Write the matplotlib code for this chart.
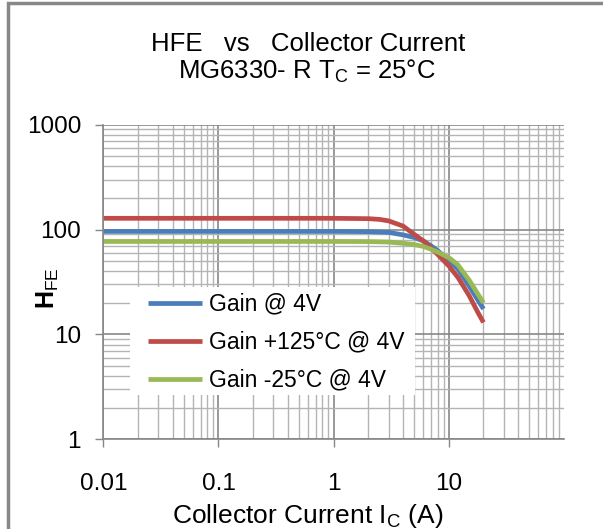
import numpy as np
import matplotlib
matplotlib.use("Agg")
from matplotlib import pyplot as plt
from matplotlib.patches import Rectangle
from matplotlib.ticker import LogLocator, NullFormatter, FixedLocator

plt.rcParams['font.family'] = ['Liberation Sans', 'DejaVu Sans']
plt.rcParams['mathtext.fontset'] = 'custom'
plt.rcParams['mathtext.rm'] = 'Liberation Sans'
plt.rcParams['mathtext.bf'] = 'Liberation Sans:bold'

# collector current (A) and gain values
ic_25 = [0.01, 0.1, 1, 2, 3, 4, 5, 6, 7, 8, 10, 12, 15, 18, 20]
hfe_25 = [96, 96, 96, 95.5, 94, 89, 84, 78, 70, 63, 51, 42, 29, 21, 17.5]

ic_125 = [0.01, 0.1, 1, 2, 2.5, 3, 4, 5, 6, 7, 8, 10, 12, 15, 18, 20]
hfe_125 = [128, 128, 128, 127, 125, 121, 108, 90, 78, 67, 58, 45, 35, 23.5, 16, 13]

ic_m25 = [0.01, 0.1, 1, 2, 3, 4, 5, 6, 7, 8, 10, 12, 15, 18, 20]
hfe_m25 = [77, 77, 77, 76.8, 76, 74, 72, 69, 65, 61, 54, 46, 33, 24, 20]

labels = ["Gain @ 4V", "Gain +125°C @ 4V", "Gain -25°C @ 4V"]
colors = ['#4A7EBB', '#BE4B48', '#98B954']

x_ticks = [0.01, 0.1, 1, 10]
x_tick_labels = ["0.01", "0.1", "1", "10"]
y_ticks = [1, 10, 100, 1000]
y_tick_labels = ["1", "10", "100", "1000"]

fig = plt.figure(figsize=(6.03, 5.29), dpi=100)
ax = fig.add_axes([0.1713, 0.1696, 0.764, 0.5947])

ax.set_xscale('log')
ax.set_yscale('log')
ax.set_xlim(0.01, 100)
ax.set_ylim(1, 1000)

# grid
ax.xaxis.set_minor_locator(LogLocator(base=10, subs=np.arange(2, 10), numticks=20))
ax.yaxis.set_minor_locator(LogLocator(base=10, subs=np.arange(2, 10), numticks=20))
ax.xaxis.set_minor_formatter(NullFormatter())
ax.yaxis.set_minor_formatter(NullFormatter())
ax.grid(True, which='minor', color='#B4B4B4', linewidth=1.0)
ax.grid(True, which='major', color='#878787', linewidth=1.2)
ax.set_axisbelow(True)

ax.plot(ic_25, hfe_25, color=colors[0], lw=3.4, label=labels[0], solid_capstyle='butt')
ax.plot(ic_125, hfe_125, color=colors[1], lw=3.4, label=labels[1], solid_capstyle='butt')
ax.plot(ic_m25, hfe_m25, color=colors[2], lw=3.4, label=labels[2], solid_capstyle='butt')

ax.xaxis.set_major_locator(FixedLocator(x_ticks))
ax.set_xticklabels(x_tick_labels)
ax.yaxis.set_major_locator(FixedLocator(y_ticks))
ax.set_yticklabels(y_tick_labels)
ax.tick_params(which='major', length=6, width=1, color='#878787', labelsize=17.5)
ax.tick_params(axis='x', pad=18)
ax.tick_params(axis='y', pad=10)
ax.tick_params(which='minor', length=0)

for side in ['top', 'right']:
    ax.spines[side].set_visible(False)
for side in ['left', 'bottom']:
    ax.spines[side].set_color('#878787')
    ax.spines[side].set_linewidth(1.2)

ax.set_xlabel("Collector Current I$_\\mathrm{C}$ (A)", fontsize=19)
ax.xaxis.set_label_coords(0.444, -0.198)
ax.set_ylabel("$\\mathbf{H}_\\mathrm{FE}$", fontsize=18)
ax.yaxis.set_label_coords(-0.091, 0.48)

# white legend box over the grid
ax.add_patch(Rectangle((0.058, 0.141), 0.6186, 0.3433, transform=ax.transAxes,
                       facecolor='white', edgecolor='none', zorder=1.5))
leg = ax.legend(loc='upper left', bbox_to_anchor=(0.097, 0.4663), borderaxespad=0,
                frameon=False, prop={'size': 16.5}, handlelength=2.35,
                labelspacing=0.66, borderpad=0, handletextpad=0.3)
for line in leg.get_lines():
    line.set_linewidth(3.4)

fig.text(0.511, 0.9036, "HFE   vs   Collector Current", ha='center', va='baseline', fontsize=18.5)
fig.text(0.509, 0.8507, "MG6330- R T$_\\mathrm{C}$ = 25°C", ha='center', va='baseline', fontsize=18.5)

# gray frame like the source chart
fig.patches.append(Rectangle((8 / 603, -0.1), 1.2, (529 - 3) / 529 + 0.1,
                             transform=fig.transFigure, fill=False,
                             edgecolor='#888888', linewidth=2.5))

fig.savefig('out.png', dpi=100)
